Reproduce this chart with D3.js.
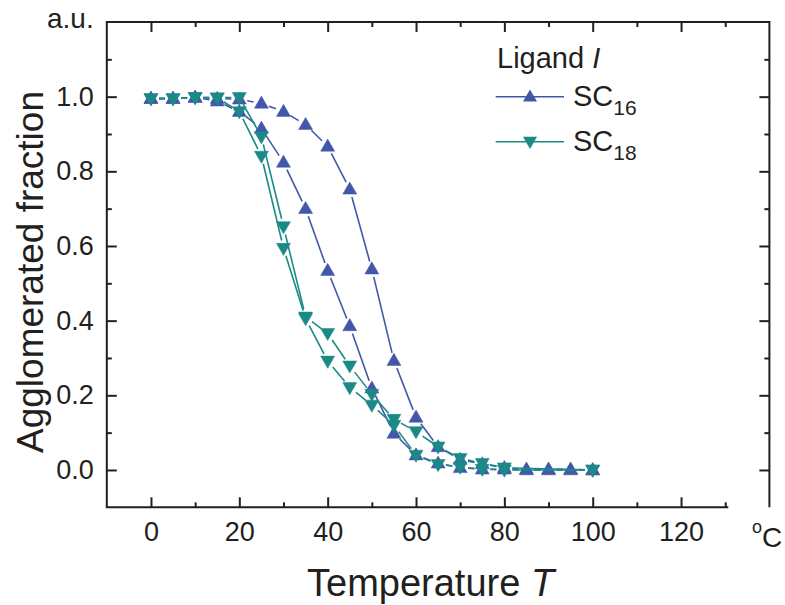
<!DOCTYPE html>
<html>
<head>
<meta charset="utf-8">
<script src="https://cdn.jsdelivr.net/npm/d3@7"></script>
<style>
  body { margin: 0; background: #fff; }
  svg { display: block; font-family: "Liberation Sans", Arial, sans-serif; }
</style>
</head>
<body>
<svg id="chart" width="785" height="605"></svg>
<script>
// data
const temps16 = [0, 5, 10, 15, 20, 25, 30, 35, 40, 45, 50, 55, 60, 65, 70, 75, 80, 85, 90, 95, 100];
const sc16a = [0.995, 0.995, 0.998, 0.995, 0.993, 0.982, 0.96, 0.925, 0.867, 0.752, 0.538, 0.293, 0.141, 0.062, 0.028, 0.016, 0.006, 0.002, 0.002, 0.002, 0.0];
const sc16b = [0.995, 0.995, 0.998, 0.988, 0.96, 0.915, 0.824, 0.70, 0.534, 0.386, 0.219, 0.098, 0.04, 0.018, 0.006, 0.002, 0.002, 0.0, 0.0, 0.0, 0.0];
const temps18 = [0, 5, 10, 15, 20, 25, 30, 35, 40, 45, 50, 55, 60, 65, 70, 75, 80, 100];
const sc18a = [0.995, 0.995, 0.998, 0.997, 0.998, 0.893, 0.652, 0.41, 0.366, 0.279, 0.203, 0.136, 0.103, 0.062, 0.031, 0.018, 0.006, 0.0];
const sc18b = [0.995, 0.995, 0.998, 0.997, 0.96, 0.841, 0.594, 0.406, 0.292, 0.221, 0.174, 0.12, 0.04, 0.015, 0.008, 0.002, 0.0, 0.0];
const xMajor = [0, 20, 40, 60, 80, 100, 120];
const xMinor = [10, 30, 50, 70, 90, 110, 130];
const yMajor = [0.0, 0.2, 0.4, 0.6, 0.8, 1.0];
const yMinor = [0.1, 0.3, 0.5, 0.7, 0.9, 1.1];

const blue = "#4257aa", teal = "#1b8a87", ink = "#231f20";

const svg = d3.select("#chart");
const x = d3.scaleLinear().domain([-10, 140]).range([106.8, 769.4]);
const y = d3.scaleLinear().domain([-0.1, 1.2]).range([507.3, 22]);

// frame (bottom line stops short at the unit label)
const frame = svg.append("g").attr("stroke", ink).attr("stroke-width", 2).attr("fill", "none");
frame.append("path").attr("d",
  `M${x(130.7)},${y(-0.1)} L${x(-10)},${y(-0.1)} L${x(-10)},${y(1.2)} L${x(140)},${y(1.2)} L${x(140)},${y(-0.1)}`);

// axes with inward ticks
function styleAxis(g) {
  g.select(".domain").remove();
  g.selectAll("line").attr("stroke", ink).attr("stroke-width", 2);
  g.selectAll("text").attr("fill", ink).attr("font-size", 27);
}
svg.append("g").attr("transform", `translate(0,${y(-0.1)})`)
  .call(d3.axisBottom(x).tickValues(xMajor).tickSize(-10).tickPadding(15).tickFormat(d3.format("d")))
  .call(styleAxis);
svg.append("g").attr("transform", `translate(0,${y(-0.1)})`)
  .call(d3.axisBottom(x).tickValues(xMinor).tickSize(-5).tickFormat(""))
  .call(styleAxis);
svg.append("g").attr("transform", `translate(0,${y(1.2)})`)
  .call(d3.axisTop(x).tickValues(xMajor).tickSize(-10).tickFormat(""))
  .call(styleAxis);
svg.append("g").attr("transform", `translate(0,${y(1.2)})`)
  .call(d3.axisTop(x).tickValues(xMinor).tickSize(-5).tickFormat(""))
  .call(styleAxis);
svg.append("g").attr("transform", `translate(${x(-10)},0)`)
  .call(d3.axisLeft(y).tickValues(yMajor).tickSize(-10).tickPadding(13).tickFormat(d3.format(".1f")))
  .call(styleAxis);
svg.append("g").attr("transform", `translate(${x(-10)},0)`)
  .call(d3.axisLeft(y).tickValues(yMinor).tickSize(-5).tickFormat(""))
  .call(styleAxis);
svg.append("g").attr("transform", `translate(${x(140)},0)`)
  .call(d3.axisRight(y).tickValues(yMajor).tickSize(-10).tickFormat(""))
  .call(styleAxis);
svg.append("g").attr("transform", `translate(${x(140)},0)`)
  .call(d3.axisRight(y).tickValues(yMinor).tickSize(-5).tickFormat(""))
  .call(styleAxis);

// triangle marker path, centred on (0,0)
function tri(w, up) {
  const h = w * 0.866, s = up ? 1 : -1;
  return `M0,${-s * h * 0.6} L${w / 2},${s * h * 0.4} L${-w / 2},${s * h * 0.4}Z`;
}

// line segments with a gap next to each marker
function series(xs, vs, color, up) {
  const pts = xs.map((t, i) => [x(t), y(vs[i])]);
  const gap = 8;
  const g = svg.append("g");
  for (let i = 1; i < pts.length; i++) {
    const [x0, y0] = pts[i - 1], [x1, y1] = pts[i];
    const len = Math.hypot(x1 - x0, y1 - y0);
    if (len <= 2 * gap) continue;
    const ux = (x1 - x0) / len, uy = (y1 - y0) / len;
    g.append("line")
      .attr("x1", x0 + ux * gap).attr("y1", y0 + uy * gap)
      .attr("x2", x1 - ux * gap).attr("y2", y1 - uy * gap)
      .attr("stroke", color).attr("stroke-width", 1.6);
  }
  g.selectAll("path").data(pts).join("path")
    .attr("transform", d => `translate(${d[0]},${d[1]})`)
    .attr("d", tri(14, up))
    .attr("fill", color)
    .attr("stroke", color).attr("stroke-width", 0.5);
}
series(temps16, sc16a, blue, true);
series(temps16, sc16b, blue, true);
series(temps18, sc18a, teal, false);
series(temps18, sc18b, teal, false);

// legend
const leg = svg.append("g").attr("fill", ink);
leg.append("text").attr("x", 497).attr("y", 68).attr("font-size", 29)
  .text("Ligand ").append("tspan").attr("font-style", "italic").text("I");
const legItems = [
  { color: blue, up: true, sub: "16", y: 96.7 },
  { color: teal, up: false, sub: "18", y: 141.7 }
];
legItems.forEach(d => {
  leg.append("line").attr("x1", 495.7).attr("x2", 564).attr("y1", d.y).attr("y2", d.y)
    .attr("stroke", d.color).attr("stroke-width", 1.4);
  leg.append("path").attr("transform", `translate(530,${d.y})`).attr("d", tri(14, d.up))
    .attr("fill", d.color);
  const t = leg.append("text").attr("x", 573).attr("y", d.y + 9.5).attr("font-size", 29).text("SC");
  t.append("tspan").attr("font-size", 21).attr("dy", 9).text(d.sub);
});

// axis titles and units
svg.append("text").attr("transform", "translate(43,272) rotate(-90)")
  .attr("text-anchor", "middle").attr("font-size", 37).attr("fill", ink)
  .text("Agglomerated fraction");
svg.append("text").attr("x", 307).attr("y", 596).attr("font-size", 38).attr("fill", ink)
  .text("Temperature ").append("tspan").attr("font-style", "italic").text("T");
svg.append("text").attr("x", 47).attr("y", 28).attr("font-size", 28).attr("fill", ink).text("a.u.");
const unit = svg.append("text").attr("x", 752).attr("y", 533).attr("fill", ink);
unit.append("tspan").attr("font-size", 18).text("o");
unit.append("tspan").attr("font-size", 28).attr("dy", 14).attr("x", 762).text("C");
</script>
</body>
</html>
